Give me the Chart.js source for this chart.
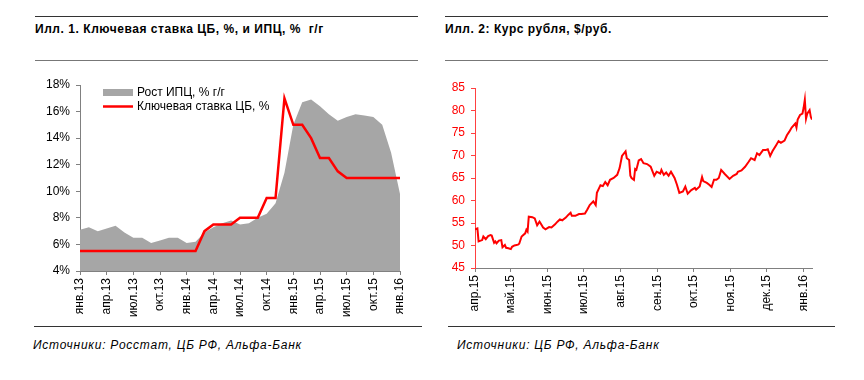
<!DOCTYPE html>
<html><head><meta charset="utf-8">
<script src="https://cdn.jsdelivr.net/npm/chart.js@4.4.0/dist/chart.umd.min.js"></script>
<style>
body{margin:0;background:#fff;width:864px;height:380px;overflow:hidden;position:relative;font-family:'Liberation Sans',Arial,sans-serif;}
.hl{position:absolute;height:1px;}
.title{position:absolute;font-weight:bold;font-size:12px;line-height:14px;white-space:pre;color:#000;letter-spacing:0.55px;}
.src{position:absolute;font-style:italic;font-size:12px;line-height:14px;white-space:pre;color:#000;letter-spacing:0.75px;}
canvas{position:absolute;}
</style></head><body>
<div class="hl" style="left:35px;top:16px;width:383px;background:#333;"></div>
<div class="title" style="left:35px;top:22px;">Илл. 1. Ключевая ставка ЦБ, %, и ИПЦ, %  г/г</div>
<div class="hl" style="left:35px;top:60px;width:383px;background:#777;"></div>
<div class="hl" style="left:445px;top:16px;width:383px;background:#333;"></div>
<div class="title" style="left:445px;top:22px;">Илл. 2: Курс рубля, $/руб.</div>
<div class="hl" style="left:445px;top:60px;width:383px;background:#777;"></div>
<div class="hl" style="left:34px;top:326px;width:388px;background:#333;"></div>
<div class="src" style="left:33px;top:338px;">Источники: Росстат, ЦБ РФ, Альфа-Банк</div>
<div class="hl" style="left:448px;top:326px;width:387px;background:#333;"></div>
<div class="src" style="left:457px;top:338px;">Источники: ЦБ РФ, Альфа-Банк</div>
<canvas id="c1" width="432" height="270" style="left:0;top:60px;"></canvas>
<canvas id="c2" width="432" height="270" style="left:432px;top:60px;"></canvas>
<script>
const cpiMonths = ['янв.13','фев.13','мар.13','апр.13','май.13','июн.13','июл.13','авг.13','сен.13','окт.13','ноя.13','дек.13',
 'янв.14','фев.14','мар.14','апр.14','май.14','июн.14','июл.14','авг.14','сен.14','окт.14','ноя.14','дек.14',
 'янв.15','фев.15','мар.15','апр.15','май.15','июн.15','июл.15','авг.15','сен.15','окт.15','ноя.15','дек.15','янв.16'];
const cpiValues = [7.1,7.3,7.0,7.2,7.4,6.9,6.5,6.5,6.1,6.3,6.5,6.5,
 6.1,6.2,6.9,7.3,7.6,7.8,7.5,7.6,8.0,8.3,9.1,11.4,
 15.0,16.7,16.9,16.4,15.8,15.3,15.6,15.8,15.7,15.6,15.0,12.9,9.8];
const keyRate = [5.5,5.5,5.5,5.5,5.5,5.5,5.5,5.5,5.5,5.5,5.5,5.5,
 5.5,5.5,7.0,7.5,7.5,7.5,8.0,8.0,8.0,9.5,9.5,17.0,
 15.0,15.0,14.0,12.5,12.5,11.5,11.0,11.0,11.0,11.0,11.0,11.0,11.0];
const cpiLabel = 'Рост ИПЦ, % г/г';
const rateLabel = 'Ключевая ставка ЦБ, %';

const rubDays = [0,2,3,6,7,9,11,13,14,16,17,18,20,22,23,25,26,28,30,31,33,36,37,39,42,43,44,45,48,50,
 52,54,55,57,59,62,64,67,69,71,73,76,78,80,81,84,87,89,92,94,96,99,101,102,105,107,109,111,113,116,
 119,121,123,126,127,129,130,131,133,134,135,137,139,141,144,147,150,152,155,156,158,160,162,164,167,169,171,174,176,178,
 181,184,185,188,190,191,194,196,198,200,202,204,206,209,213,216,219,220,223,226,229,231,234,236,238,241,243,245,247,249,
 252,254,256,259,261,263,265,268,269,270,272,274,275,276,277,278,280,281,282];
const rubValues = [53.6,53.8,50.9,51.2,52.0,51.4,52.1,52.3,52.2,50.6,50.9,50.5,51.1,51.2,49.6,50.1,49.5,49.4,49.2,49.7,
 50.0,50.2,50.4,52.0,52.7,53.5,53.1,56.4,56.3,56.0,54.5,55.3,54.9,54.0,53.6,54.1,54.0,54.7,55.3,55.8,
 55.6,56.2,56.8,57.3,56.6,56.6,57.0,57.0,57.1,58.0,59.0,59.8,59.0,61.7,63.4,63.2,64.1,63.4,64.6,65.0,
 65.7,67.2,69.9,70.9,69.4,69.0,65.5,65.0,64.6,67.0,66.8,68.9,69.2,68.3,68.1,67.5,65.5,66.4,66.0,66.8,
 65.7,66.2,65.5,66.4,65.0,63.5,61.7,62.0,63.1,61.5,62.3,62.8,62.4,63.1,65.2,64.3,63.9,63.5,63.0,64.6,
 64.6,65.0,66.8,65.9,64.8,65.5,65.9,66.4,66.7,67.5,68.6,69.4,69.0,70.5,70.1,71.2,71.2,71.4,69.9,71.0,
 72.3,73.2,72.8,73.3,74.5,75.3,76.2,77.1,76.2,78.0,79.0,79.3,80.6,82.4,78.2,79.3,80.1,78.6,78.0];
const rubTickDays = [0,30,61,91,122,153,183,214,244,275];
const rubTickLabels = ['апр.15','май.15','июн.15','июл.15','авг.15','сен.15','окт.15','ноя.15','дек.15','янв.16'];

const FAM = "'Liberation Sans', Arial, sans-serif";
const tickFont = {family: FAM, size: 12};

const legendPlugin = {
  id: 'customLegend',
  afterDraw(chart) {
    const ctx = chart.ctx, ds = chart.data.datasets, a = chart.chartArea;
    ctx.save();
    ctx.font = '12px ' + FAM;
    ctx.textBaseline = 'middle';
    ctx.fillStyle = ds[0].backgroundColor;
    ctx.fillRect(a.left + 23, a.top + 4, 30, 7);
    ctx.strokeStyle = ds[1].borderColor;
    ctx.lineWidth = 2.5;
    ctx.beginPath(); ctx.moveTo(a.left + 23, a.top + 21.5); ctx.lineTo(a.left + 53, a.top + 21.5); ctx.stroke();
    ctx.fillStyle = '#000';
    ctx.fillText(ds[0].label, a.left + 57, a.top + 8);
    ctx.fillText(ds[1].label, a.left + 57, a.top + 21.5);
    ctx.restore();
  }
};

new Chart(document.getElementById('c1'), {
  type: 'line',
  data: {labels: cpiMonths, datasets: [
    {label: cpiLabel, data: cpiValues, fill: 'start', backgroundColor: '#a6a6a6', borderWidth: 0, pointRadius: 0, tension: 0, order: 2},
    {label: rateLabel, data: keyRate, fill: false, borderColor: '#ff0000', borderWidth: 2.5, pointRadius: 0, tension: 0, order: 1}
  ]},
  options: {
    responsive: false, animation: false, devicePixelRatio: 1,
    layout: {padding: {top: 25, right: 32, left: 0, bottom: 0}},
    plugins: {legend: {display: false}, tooltip: {enabled: false}},
    scales: {
      x: {type: 'category', offset: false,
        grid: {display: true, drawOnChartArea: false, drawTicks: true, tickLength: 4, color: '#808080'},
        border: {color: '#808080'},
        ticks: {autoSkip: false, maxRotation: 90, minRotation: 90, padding: 3, color: '#000', font: tickFont,
          callback: function(v, i) { return i % 3 === 0 ? this.getLabelForValue(v) : null; }},
        afterFit: s => { s.height = 59; }},
      y: {min: 4, max: 18,
        grid: {drawOnChartArea: false, tickLength: 4, color: '#808080'},
        border: {color: '#808080'},
        ticks: {stepSize: 2, padding: 6, color: '#000', font: tickFont, callback: v => v + '%'},
        afterFit: s => { s.width = 80; }}
    }
  },
  plugins: [legendPlugin]
});

new Chart(document.getElementById('c2'), {
  type: 'line',
  data: {datasets: [
    {label: 'USD/RUB', data: rubDays.map((d, i) => ({x: d, y: rubValues[i]})), borderColor: '#ff0000', borderWidth: 2, pointRadius: 0, tension: 0, fill: false}
  ]},
  options: {
    responsive: false, animation: false, devicePixelRatio: 1,
    layout: {padding: {top: 28, right: 52, left: 0, bottom: 0}},
    plugins: {legend: {display: false}, tooltip: {enabled: false}},
    scales: {
      x: {type: 'linear', min: 0, max: 282,
        afterBuildTicks: s => { s.ticks = rubTickDays.map(v => ({value: v})); },
        grid: {display: true, drawOnChartArea: false, tickLength: 4, color: '#808080'},
        border: {color: '#808080'},
        ticks: {autoSkip: false, maxRotation: 90, minRotation: 90, padding: 3, color: '#000', font: tickFont,
          callback: v => { const k = rubTickDays.indexOf(v); return k >= 0 ? rubTickLabels[k] : ''; }},
        afterFit: s => { s.height = 62; }},
      y: {min: 45, max: 85,
        grid: {drawOnChartArea: false, tickLength: 4, color: '#ff4040'},
        border: {color: '#ff4040'},
        ticks: {stepSize: 5, padding: 6, color: '#ff0000', font: tickFont},
        afterFit: s => { s.width = 43; }}
    }
  }
});
</script>
</body></html>
